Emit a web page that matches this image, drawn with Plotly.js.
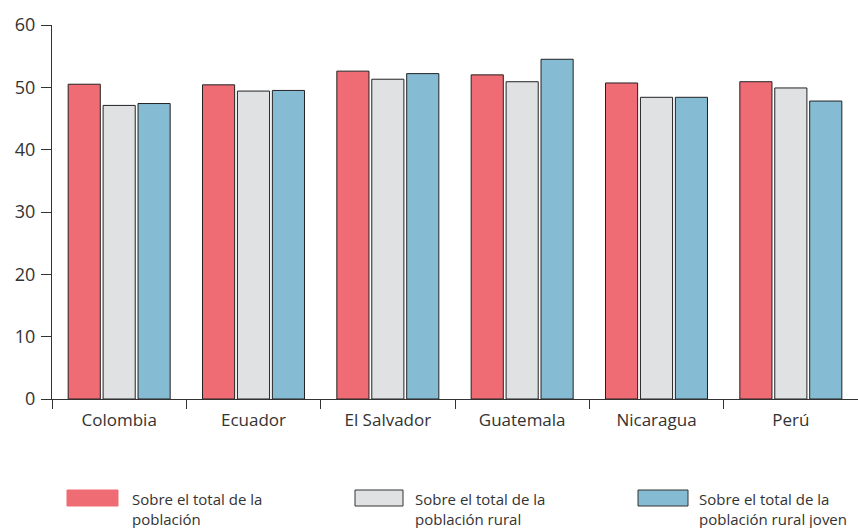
<!DOCTYPE html>
<html>
<head>
<meta charset="utf-8">
<script src="https://cdn.plot.ly/plotly-3.0.1.min.js"></script>
<style>html,body{margin:0;padding:0;background:#fff;}#chart{width:858px;height:528px;}</style>
</head>
<body>
<div id="chart"></div>
<script>
const categories = ["Colombia", "Ecuador", "El Salvador", "Guatemala", "Nicaragua", "Perú"];
const seriesNames = ["Sobre el total de la<br>población", "Sobre el total de la<br>población rural", "Sobre el total de la<br>población rural joven"];
const totalPoblacion = [50.5, 50.4, 52.6, 52.0, 50.7, 50.9];
const poblacionRural = [47.1, 49.4, 51.3, 50.9, 48.4, 49.9];
const poblacionRuralJoven = [47.4, 49.5, 52.2, 54.5, 48.4, 47.8];
const yTicks = [0, 10, 20, 30, 40, 50, 60];

const colors = ["#EF6C74", "#E0E1E3", "#86BCD3"];
const seriesValues = [totalPoblacion, poblacionRural, poblacionRuralJoven];

const W = 858, H = 528;
const M = {l: 52, r: 0, t: 25, b: 129};
const pw = W - M.l - M.r, ph = H - M.t - M.b;
const px2x = p => (p - M.l) / pw;
const py2y = p => (H - M.b - p) / ph;

const traces = seriesValues.map((vals, i) => ({
  type: "bar",
  x: categories,
  y: vals,
  name: seriesNames[i],
  marker: {color: colors[i], line: {color: "#222", width: 1}},
  hoverinfo: "x+y"
}));

const legendX = [[67, 118, 130], [355, 403, 413], [638, 688, 697]];
const shapes = [], annotations = [];
legendX.forEach((lx, i) => {
  shapes.push({
    type: "rect", xref: "paper", yref: "paper",
    x0: px2x(lx[0]), x1: px2x(lx[1]), y0: py2y(506), y1: py2y(490),
    fillcolor: colors[i],
    line: {color: i === 0 ? colors[i] : "#333", width: 1}
  });
  annotations.push({
    xref: "paper", yref: "paper", x: px2x(lx[2]), y: py2y(487),
    xanchor: "left", yanchor: "top", align: "left", showarrow: false,
    text: seriesNames[i],
    font: {family: "Open Sans, sans-serif", size: 15, color: "#333"}
  });
});

const layout = {
  width: W, height: H,
  margin: M,
  paper_bgcolor: "#fff", plot_bgcolor: "#fff",
  barmode: "group",
  bargap: 0.22,
  bargroupgap: 0.08,
  showlegend: false,
  font: {family: "Open Sans, sans-serif", color: "#333"},
  xaxis: {
    type: "category",
    showline: true, linecolor: "#333", linewidth: 1,
    ticks: "outside", tickson: "boundaries", ticklen: 9, tickcolor: "#333",
    ticklabelstandoff: 6,
    tickfont: {size: 17, color: "#333"},
    showgrid: false, zeroline: false, fixedrange: true
  },
  yaxis: {
    range: [0, 60],
    tickvals: yTicks,
    showline: true, linecolor: "#333", linewidth: 1,
    ticks: "outside", ticklen: 10, tickcolor: "#333",
    ticklabelstandoff: 2,
    tickfont: {size: 18, color: "#333"},
    showgrid: false, zeroline: false, fixedrange: true
  },
  shapes: shapes,
  annotations: annotations
};

Plotly.newPlot("chart", traces, layout, {displayModeBar: false, staticPlot: true});
</script>
</body>
</html>
